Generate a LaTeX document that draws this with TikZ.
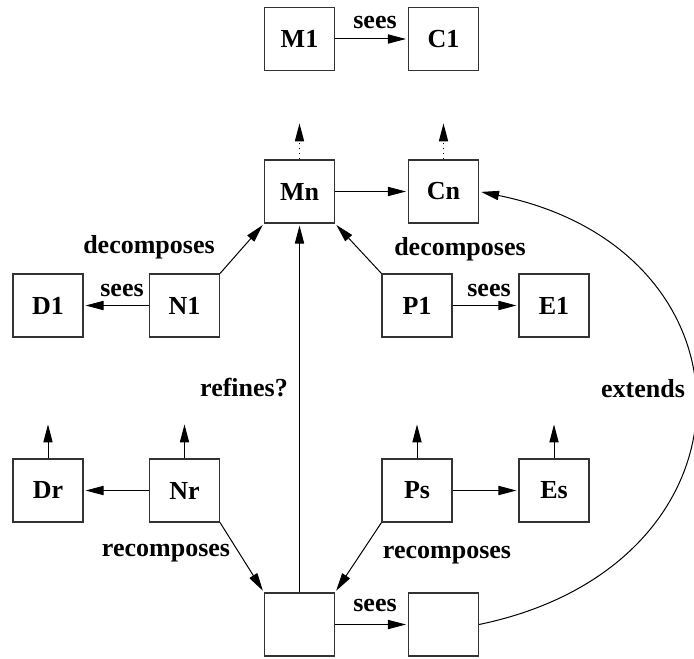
\documentclass[tikz,border=0pt]{standalone}
\usepackage{fontspec}
\setmainfont{Liberation Serif}
\usetikzlibrary{arrows.meta}

\tikzset{
  box/.style={draw=black!80, line width=0.55pt, minimum width=35pt, minimum height=31.5pt, inner sep=0pt},
  arr/.style={line width=0.5pt, -{Triangle[length=9pt,width=4.6pt]}, shorten >=1pt},
  lbl/.style={inner sep=0pt}
}

\begin{document}
\begin{tikzpicture}[x=0.5pt, y=-0.5pt, font=\bfseries\fontsize{13}{15}\selectfont]
  \useasboundingbox (0,0) rectangle (694,658);

  % Draw boxes
  \foreach \name/\x/\y/\txt in {M1/299.5/39/M1, C1/443.5/39/C1,
      Mn/299.5/191.5/Mn, Cn/443.5/191.5/Cn,
      D1/48/305.5/D1, N1/184.5/305.5/N1, P1/417/305.5/P1, E1/554/305.5/E1,
      Dr/48/490.5/Dr, Nr/184.5/490.5/Nr, Ps/417/490.5/Ps, Es/554/490.5/Es,
      B/299.5/624.5/, B2/443.5/624.5/} {
    \node[box] (\name) at (\x,\y) {\txt};
  }

  % Short arrows above
  \foreach \n in {Mn,Cn} {
    \path (\n.north) ++(0,-38) coordinate (\n t);
    \draw[arr, dotted] (\n.north) -- (\n t);
  }
  \foreach \n in {Dr,Nr,Ps,Es} {
    \path (\n.north) ++(0,-36) coordinate (\n t);
    \draw[arr] (\n.north) -- (\n t);
  }

  % Connectors
  \draw[arr] (M1) -- (C1);
  \draw[arr] (Mn) -- (Cn);
  \draw[arr] (N1) -- (D1);
  \draw[arr] (P1) -- (E1);
  \draw[arr] (N1.north east) -- (Mn.south west);
  \draw[arr] (P1.north west) -- (Mn.south east);
  \draw[arr] (B.north) -- (Mn.south);
  \draw[arr] (Nr) -- (Dr);
  \draw[arr] (Ps) -- (Es);
  \draw[arr] (Nr.south east) -- (B.north west);
  \draw[arr] (Ps.south west) -- (B.north east);
  \draw[arr] (B) -- (B2);
  \draw[arr] (B2.east) .. controls (766,565) and (766,250) .. (Cn.east);

  % Labels
  \node[lbl] (s1) at (375,23) {sees};
  \node[lbl] (dl) at (149,247) {decomposes};
  \node[lbl] (dr) at (460,249) {decomposes};
  \node[lbl] (s2) at (122,290) {sees};
  \node[lbl] (s3) at (489,290) {sees};
  \node[lbl] (rf) at (244,388) {refines?};
  \node[lbl] (ex) at (643,389) {extends};
  \node[lbl] (rl) at (166,553) {recomposes};
  \node[lbl] (rr) at (447,555) {recomposes};
  \node[lbl] (s4) at (375,605) {sees};
\end{tikzpicture}
\end{document}
